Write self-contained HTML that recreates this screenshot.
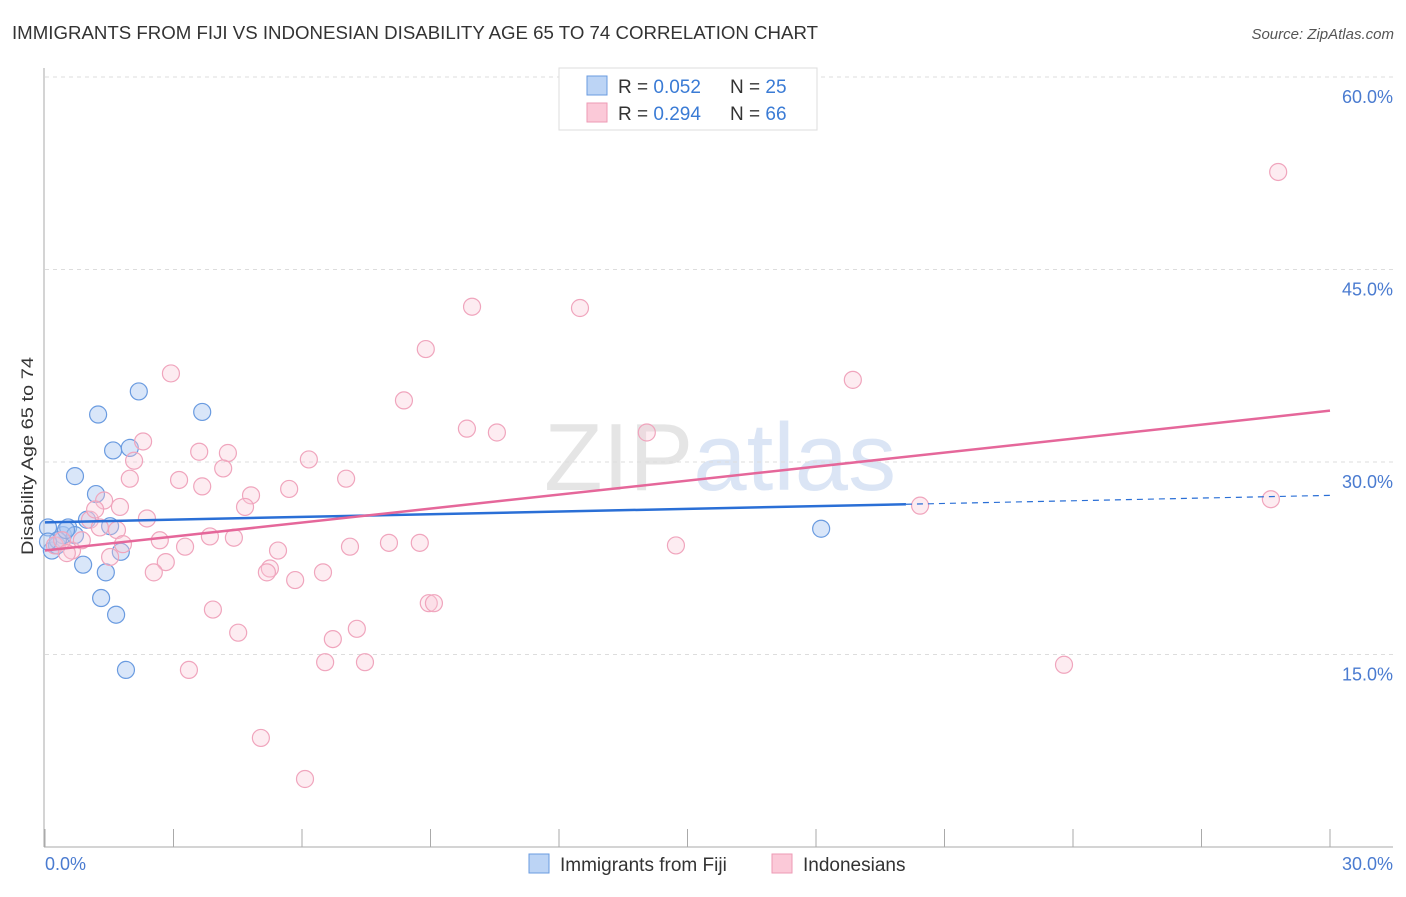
<!DOCTYPE html>
<html><head><meta charset="utf-8"><style>
body{margin:0;background:#fff;font-family:"Liberation Sans",sans-serif;}
svg text{font-family:"Liberation Sans",sans-serif;}
</style></head><body>
<svg id="chart" width="1406" height="892" viewBox="0 0 1406 892" xmlns="http://www.w3.org/2000/svg">
<text x="12" y="39" font-size="18" fill="#333" textLength="806" lengthAdjust="spacingAndGlyphs">IMMIGRANTS FROM FIJI VS INDONESIAN DISABILITY AGE 65 TO 74 CORRELATION CHART</text>
<text x="1394" y="39" font-size="15" fill="#555" text-anchor="end" font-style="italic">Source: ZipAtlas.com</text>
<text x="720" y="490" font-size="96" text-anchor="middle" fill="#ccc" opacity="0.5" font-family="Liberation Serif">ZIP<tspan fill="#b8cdec" font-family="Liberation Sans">atlas</tspan></text>
<g id="grid"></g>
<g id="axes"></g>
<g id="marks"></g>
<text transform="translate(33,456) rotate(-90)" font-size="17" fill="#333" text-anchor="middle" textLength="198" lengthAdjust="spacingAndGlyphs">Disability Age 65 to 74</text>
<text x="45" y="870" font-size="18" fill="#4a7bd0">0.0%</text>
<text x="1393" y="870" font-size="18" fill="#4a7bd0" text-anchor="end">30.0%</text>
<g>
<rect x="559" y="68" width="258" height="62" fill="#fff" stroke="#ddd"/>
<rect x="587" y="76" width="20" height="19" fill="#bcd4f5" stroke="#6a9be0"/>
<rect x="587" y="103" width="20" height="19" fill="#fbc9d8" stroke="#ee9ab5"/>
<text x="618" y="93" font-size="19" fill="#333">R = <tspan fill="#3a7bd5">0.052</tspan></text>
<text x="730" y="93" font-size="19" fill="#333">N = <tspan fill="#3a7bd5">25</tspan></text>
<text x="618" y="120" font-size="19" fill="#333">R = <tspan fill="#3a7bd5">0.294</tspan></text>
<text x="730" y="120" font-size="19" fill="#333">N = <tspan fill="#3a7bd5">66</tspan></text>
</g>
<g>
<rect x="529" y="854" width="20" height="19" fill="#bcd4f5" stroke="#6a9be0"/>
<text x="560" y="871" font-size="19" fill="#333">Immigrants from Fiji</text>
<rect x="772" y="854" width="20" height="19" fill="#fbc9d8" stroke="#ee9ab5"/>
<text x="803" y="871" font-size="19" fill="#333">Indonesians</text>
</g>
</svg>
<script>
const yTicks=[15,30,45,60];
const yTickLabels=["15.0%","30.0%","45.0%","60.0%"];
const xTickVals=[0,3,6,9,12,15,18,21,24,27,30];
const fijiX=[0.07,0.16,0.28,0.42,0.54,0.70,0.70,0.89,0.98,1.19,1.24,1.31,1.42,1.52,1.59,1.66,1.77,1.89,1.98,2.19,3.67,18.12,0.30,0.49,0.07];
const fijiY=[24.9,23.1,23.5,24.3,24.9,28.9,24.3,22.0,25.5,27.5,33.7,19.4,21.4,25.0,30.9,18.1,23.0,13.8,31.1,35.5,33.9,24.8,23.9,24.7,23.8];
const indoX=[28.79,9.97,12.49,8.89,2.94,18.86,8.38,9.85,10.55,14.05,2.29,3.60,4.27,2.08,6.16,4.16,1.98,3.13,7.03,3.67,5.70,4.81,1.38,28.62,20.43,4.67,1.75,2.38,1.05,1.68,3.85,4.41,2.68,8.03,8.75,14.73,3.27,7.12,1.82,5.44,0.63,1.52,2.82,5.25,2.54,6.49,5.18,5.84,8.96,9.08,3.92,7.28,4.51,6.72,6.54,7.47,23.79,3.36,5.04,6.07,0.23,0.40,0.86,0.51,1.28,1.17];
const indoY=[52.6,42.1,42.0,38.8,36.9,36.4,34.8,32.6,32.3,32.3,31.6,30.8,30.7,30.1,30.2,29.5,28.7,28.6,28.7,28.1,27.9,27.4,27.0,27.1,26.6,26.5,26.5,25.6,25.5,24.7,24.2,24.1,23.9,23.7,23.7,23.5,23.4,23.4,23.6,23.1,23.1,22.6,22.2,21.7,21.4,21.4,21.4,20.8,19.0,19.0,18.5,17.0,16.7,16.2,14.4,14.4,14.2,13.8,8.5,5.3,23.5,23.9,23.9,22.9,24.9,26.3];
const fijiTrend=[25.3,27.4];
const fijiSolidEnd=[20.1];
const indoTrend=[23.1,34.0];
const NS="http://www.w3.org/2000/svg";
const xs=v=>45+v/30*1285;
const ys=v=>847-v/60*770;
function mk(tag,attrs,parent){const e=document.createElementNS(NS,tag);for(const k in attrs)e.setAttribute(k,attrs[k]);parent.appendChild(e);return e;}
const grid=document.getElementById('grid'),axes=document.getElementById('axes'),marks=document.getElementById('marks');
yTicks.forEach((t,i)=>{
 const l=mk('line',{x1:45,x2:1393,y1:ys(t),y2:ys(t),stroke:'#ddd','stroke-dasharray':'4,4'},grid);
 
 
 const tx=mk('text',{x:1393,y:ys(t)+26,'font-size':18,fill:'#4a7bd0','text-anchor':'end'},grid);
 tx.textContent=yTickLabels[i];
 
 
});
const ya=mk('line',{x1:44,x2:44,y1:68,y2:847,stroke:'#aaa'},axes);


const xa=mk('line',{x1:44,x2:1393,y1:847,y2:847,stroke:'#aaa'},axes);


xTickVals.forEach(t=>{
 const tk=mk('line',{x1:xs(t),x2:xs(t),y1:829,y2:847,stroke:'#aaa'},axes);
 
 
});
fijiX.forEach((x,i)=>{
 const c=mk('circle',{cx:xs(x),cy:ys(fijiY[i]),r:8.5,fill:'rgba(170,200,242,0.45)',stroke:'#6a9be0','stroke-width':1.2},marks);
 
 
});
indoX.forEach((x,i)=>{
 const c=mk('circle',{cx:xs(x),cy:ys(indoY[i]),r:8.5,fill:'rgba(250,200,215,0.35)',stroke:'#f0a5bd','stroke-width':1.2},marks);
 
 
});
const fy=x=>fijiTrend[0]+(fijiTrend[1]-fijiTrend[0])*x/30;
const t1=mk('line',{x1:xs(0),y1:ys(fy(0)),x2:xs(fijiSolidEnd[0]),y2:ys(fy(fijiSolidEnd[0])),stroke:'#2a6fd6','stroke-width':2.5},marks);


const t2=mk('line',{x1:xs(fijiSolidEnd[0]),y1:ys(fy(fijiSolidEnd[0])),x2:xs(30),y2:ys(fy(30)),stroke:'#2a6fd6','stroke-width':1.2,'stroke-dasharray':'6,5'},marks);


const t3=mk('line',{x1:xs(0),y1:ys(indoTrend[0]),x2:xs(30),y2:ys(indoTrend[1]),stroke:'#e5679a','stroke-width':2.5},marks);


</script>
</body></html>
